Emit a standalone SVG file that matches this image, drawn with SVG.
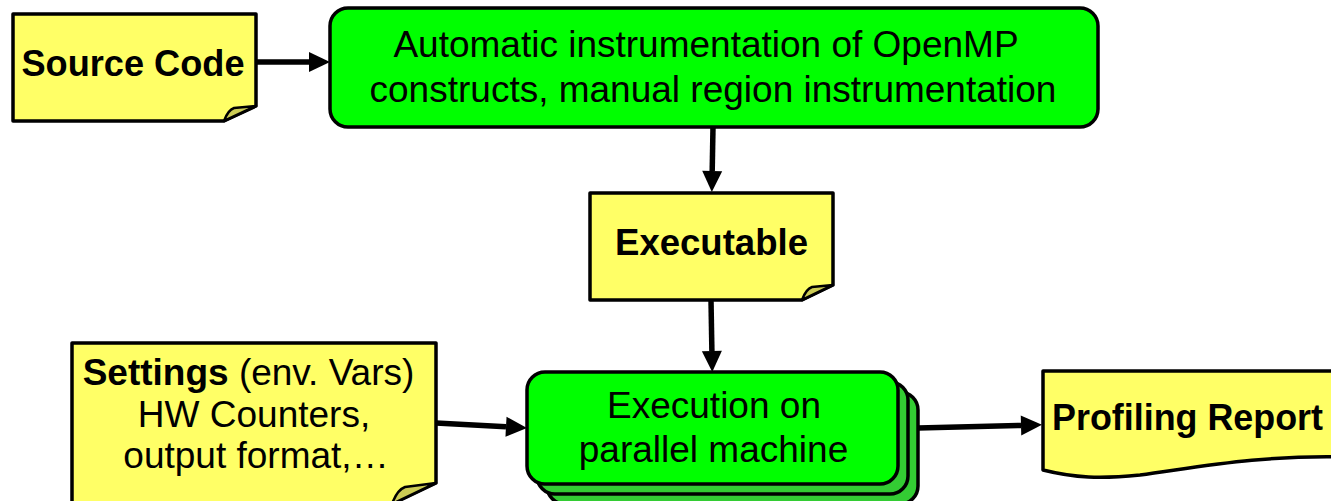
<svg xmlns="http://www.w3.org/2000/svg" width="1331" height="501" viewBox="0 0 1331 501">
<defs>
<style>
.note{fill:#ffff66;stroke:#000;stroke-width:3.5;stroke-linejoin:round}
.fold{fill:#cccc55;stroke:#000;stroke-width:2.5;stroke-linejoin:round}
.proc{fill:#00ff00;stroke:#000;stroke-width:3.5}
.back{fill:#33cc33;stroke:#000;stroke-width:3.5}
.t{font-family:"Liberation Sans",Arial,sans-serif;font-size:37px;fill:#000}
.b{font-weight:bold}
.conn{stroke:#000;stroke-width:5.5;fill:none}
</style>
<marker id="ah" markerUnits="userSpaceOnUse" markerWidth="22" markerHeight="21" refX="0" refY="10" orient="auto" overflow="visible">
<path d="M0,0 L21,10 L0,20 Z" fill="#000"/>
</marker>
</defs>
<rect width="1331" height="501" fill="#fff"/>

<g id="connectors">
<path class="conn" d="M256,62 L309,62" marker-end="url(#ah)"/>
<path class="conn" d="M713,127 L712.2,171" marker-end="url(#ah)"/>
<path class="conn" d="M711,300 L711.9,351" marker-end="url(#ah)"/>
<path class="conn" d="M436,423 L506,426.8" marker-end="url(#ah)"/>
<path class="conn" d="M918,428 L1021,425.4" marker-end="url(#ah)"/>
</g>

<g id="source-code">
<path class="note" d="M13,14 H256 V106 L224,121 H13 Z"/>
<path class="fold" d="M224,121 Q228,110 234,108 L256,106 Z"/>
<text class="t b" x="133" y="76" text-anchor="middle" textLength="223" lengthAdjust="spacingAndGlyphs">Source Code</text>
</g>

<g id="instrumentation">
<rect class="proc" x="330" y="8" width="768" height="119" rx="18"/>
<text class="t" x="706" y="57" text-anchor="middle">Automatic instrumentation of OpenMP</text>
<text class="t" x="713" y="102" text-anchor="middle">constructs, manual region instrumentation</text>
</g>

<g id="executable">
<path class="note" d="M590,193 H833 V285 L802,300 H590 Z"/>
<path class="fold" d="M802,300 Q806,289 812,287 L833,285 Z"/>
<text class="t b" x="711.5" y="255" text-anchor="middle" textLength="193" lengthAdjust="spacingAndGlyphs">Executable</text>
</g>

<g id="settings">
<path class="note" d="M72,343 H436 V483 L392,504 H72 Z"/>
<path class="fold" d="M392,504 Q397,490 405,487 L436,483 Z"/>
<text class="t" x="248.5" y="385" text-anchor="middle"><tspan class="b">Settings</tspan> (env. Vars)</text>
<text class="t" x="254" y="427" text-anchor="middle">HW Counters,</text>
<text class="t" x="256" y="468" text-anchor="middle">output format,…</text>
</g>

<g id="execution">
<rect class="back" x="547" y="392" width="371" height="112" rx="18"/>
<rect class="back" x="537" y="382" width="371" height="112" rx="18"/>
<rect class="proc" x="527" y="372" width="371" height="112" rx="18"/>
<text class="t" x="714" y="418" text-anchor="middle">Execution on</text>
<text class="t" x="713.5" y="462" text-anchor="middle">parallel machine</text>
</g>

<g id="profiling-report">
<path class="note" d="M1043,371 H1345 V457 C1260,455 1200,467 1140,475 C1100,479 1075,478 1043,470 Z"/>
<text class="t b" x="1052" y="430" textLength="271" lengthAdjust="spacingAndGlyphs">Profiling Report</text>
</g>
</svg>
